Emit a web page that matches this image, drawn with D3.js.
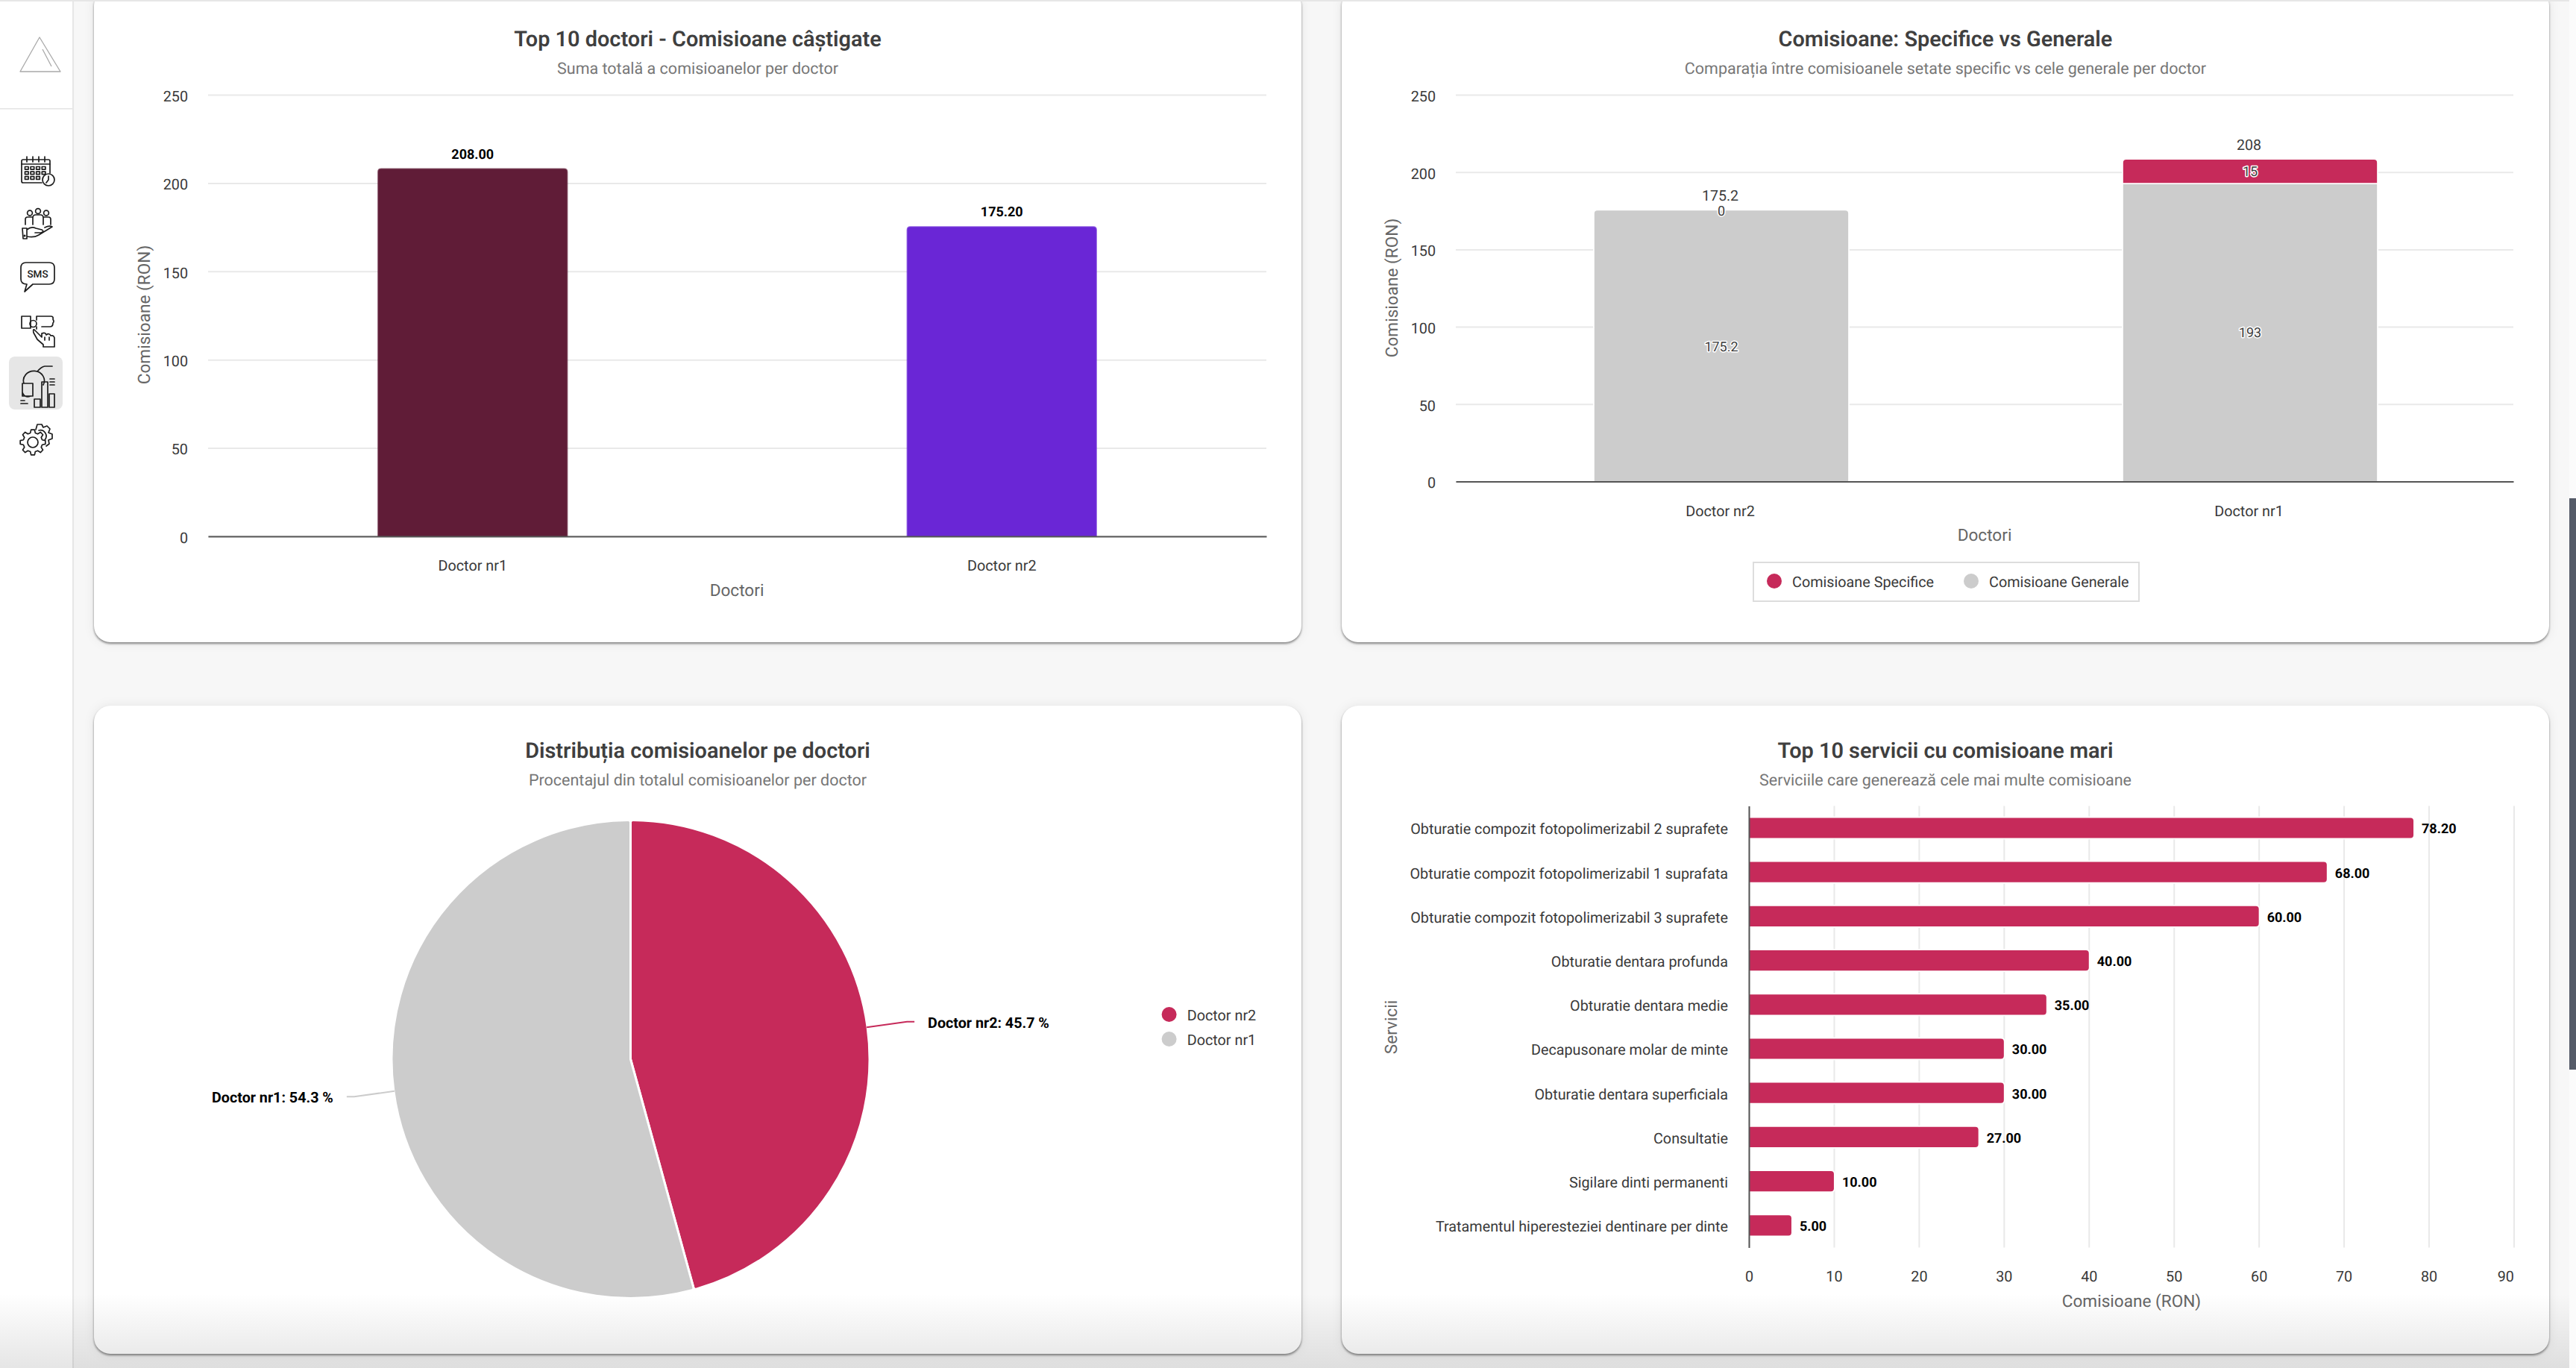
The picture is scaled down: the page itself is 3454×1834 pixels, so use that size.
<!DOCTYPE html>
<html lang="ro">
<head>
<meta charset="utf-8">
<title>Comisioane</title>
<script src="https://cdn.jsdelivr.net/npm/d3@7"></script>
<style>
  html, body { margin: 0; padding: 0; background: #f7f7f7; overflow: hidden; }
  svg { display: block; font-family: Roboto, sans-serif; text-rendering: geometricPrecision; }
  .card { fill: #fff; filter: drop-shadow(0 2px 1.5px rgba(0,0,0,.45)) drop-shadow(0 0 7px rgba(0,0,0,.07)); }
  .title { font-size: 28.9px; font-weight: 600; fill: #3f3f3f; text-anchor: middle; }
  .sub { font-size: 21.5px; fill: #777; text-anchor: middle; }
  .axt { font-size: 22.6px; fill: #666; text-anchor: middle; }
  .tick text { font-family: Roboto, sans-serif; font-size: 19.8px; }
  .val { font-size: 18px; font-weight: 700; fill: #000; }
  .pieval { font-size: 19.7px; font-weight: 700; fill: #000; }
  .inner { font-size: 18px; fill: #3c3c3c; stroke: #fff; stroke-width: 3px; paint-order: stroke; text-anchor: middle; stroke-linejoin: round; }
  .total { font-size: 19.6px; fill: #3c3c3c; text-anchor: middle; }
  .leg { font-size: 19.8px; fill: #3a3a3a; }
  .icon * { fill: none; stroke: #1d1d1d; stroke-width: 1.7px; stroke-linejoin: round; stroke-linecap: round; }
</style>
</head>
<body>
<svg id="c" width="3454" height="1834" viewBox="0 0 3454 1834"></svg>
<script>
// ---------- data ----------
const topDoctors = ["Doctor nr1", "Doctor nr2"];
const topDoctorValues = [208.0, 175.2];
const topDoctorColors = ["#601c37", "#6a26d6"];
const topTicks = [0, 50, 100, 150, 200, 250];

const stackDoctors = ["Doctor nr2", "Doctor nr1"];
const specificValues = [0, 15];
const generalValues = [175.2, 193];
const stackTotals = [175.2, 208];
const stackTicks = [0, 50, 100, 150, 200, 250];

const pieDoctors = ["Doctor nr2", "Doctor nr1"];
const pieValues = [175.2, 208.0];
const pieLabels = ["Doctor nr2: 45.7 %", "Doctor nr1: 54.3 %"];

const services = [
  "Obturatie compozit fotopolimerizabil 2 suprafete",
  "Obturatie compozit fotopolimerizabil 1 suprafata",
  "Obturatie compozit fotopolimerizabil 3 suprafete",
  "Obturatie dentara profunda",
  "Obturatie dentara medie",
  "Decapusonare molar de minte",
  "Obturatie dentara superficiala",
  "Consultatie",
  "Sigilare dinti permanenti",
  "Tratamentul hiperesteziei dentinare per dinte"
];
const serviceValues = [78.2, 68, 60, 40, 35, 30, 30, 27, 10, 5];
const serviceTicks = [0, 10, 20, 30, 40, 50, 60, 70, 80, 90];

const RED = "#c62a5a", GREY = "#cccccc", GRID = "#e9e9e9", AXIS = "#555", TICK = "#3a3a3a";

// ---------- page frame ----------
const svg = d3.select("#c");
svg.append("rect").attr("width", 3454).attr("height", 1834).attr("fill", "#f7f7f7");

const cards = [
  { x: 126, y: -14, w: 1619, h: 875 },
  { x: 1799, y: -14, w: 1619, h: 875 },
  { x: 126, y: 946, w: 1619, h: 869 },
  { x: 1799, y: 946, w: 1619, h: 869 }
];
svg.selectAll("rect.card").data(cards).join("rect").attr("class", "card")
  .attr("x", d => d.x).attr("y", d => d.y).attr("width", d => d.w).attr("height", d => d.h)
  .attr("rx", 22);

function heading(cx, y1, y2, t, s) {
  svg.append("text").attr("class", "title").attr("x", cx).attr("y", y1).attr("dy", ".35em").text(t);
  svg.append("text").attr("class", "sub").attr("x", cx).attr("y", y2).attr("dy", ".35em").text(s);
}
function axisTitle(x, y, t, rot) {
  const e = svg.append("text").attr("class", "axt").attr("dy", ".35em").text(t);
  if (rot) e.attr("transform", `translate(${x},${y}) rotate(-90)`);
  else e.attr("x", x).attr("y", y);
}
function topRounded(x, y, w, h, r) {
  if (h <= 0) return "";
  const rr = Math.min(r, h);
  return `M${x},${y + h}V${y + rr}Q${x},${y} ${x + rr},${y}H${x + w - rr}Q${x + w},${y} ${x + w},${y + rr}V${y + h}Z`;
}
function rightRounded(x, y, w, h, r) {
  return `M${x},${y}H${x + w - r}Q${x + w},${y} ${x + w},${y + r}V${y + h - r}Q${x + w},${y + h} ${x + w - r},${y + h}H${x}Z`;
}
function styleAxis(g) {
  g.selectAll(".tick line").attr("stroke", GRID).attr("stroke-width", 2);
  g.selectAll(".tick text").attr("fill", TICK);
}
function verticalFrame(left, right, top, bottom, ticks, cats, inner) {
  const y = d3.scaleLinear().domain([0, 250]).range([bottom, top]);
  const x = d3.scaleBand().domain(cats).range([left, right]).paddingInner(inner).paddingOuter(inner / 2);
  const gy = svg.append("g").attr("transform", `translate(${left},0)`)
    .call(d3.axisLeft(y).tickValues(ticks).tickSize(-(right - left)).tickPadding(27));
  gy.select(".domain").remove();
  styleAxis(gy);
  gy.selectAll(".tick text").attr("dy", ".42em");
  return { x, y, drawBase() {
    const gx = svg.append("g").attr("transform", `translate(0,${bottom})`)
      .call(d3.axisBottom(x).tickSize(0).tickSizeOuter(0).tickPadding(32));
    gx.select(".domain").attr("stroke", AXIS).attr("stroke-width", 2);
    gx.selectAll(".tick text").attr("fill", TICK);
  } };
}

// ---------- chart 1 ----------
heading(935.5, 52, 91, "Top 10 doctori - Comisioane câștigate", "Suma totală a comisioanelor per doctor");
{
  const f = verticalFrame(279, 1698, 127, 719, topTicks, topDoctors, 0.643);
  svg.append("g").selectAll("path").data(topDoctors).join("path")
    .attr("fill", (d, i) => topDoctorColors[i])
    .attr("stroke", (d, i) => topDoctorColors[i]).attr("stroke-opacity", 0.7).attr("stroke-width", 2)
    .attr("d", (d, i) => topRounded(f.x(d), f.y(topDoctorValues[i]), f.x.bandwidth(), f.y(0) - f.y(topDoctorValues[i]), 4));
  f.drawBase();
  svg.append("g").selectAll("text").data(topDoctors).join("text").attr("class", "val")
    .attr("text-anchor", "middle")
    .attr("x", d => f.x(d) + f.x.bandwidth() / 2)
    .attr("y", (d, i) => f.y(topDoctorValues[i]) - 20).attr("dy", ".35em")
    .text((d, i) => topDoctorValues[i].toFixed(2));
  axisTitle(193, 422, "Comisioane (RON)", true);
  axisTitle(988, 791, "Doctori");
}

// ---------- chart 2 ----------
heading(2608.5, 52, 91, "Comisioane: Specifice vs Generale", "Comparația între comisioanele setate specific vs cele generale per doctor");
{
  const f = verticalFrame(1952, 3370, 127, 645.5, stackTicks, stackDoctors, 0.52);
  const rows = stackDoctors.map((d, i) => ({ doctor: d, general: generalValues[i], specific: specificValues[i] }));
  const layers = d3.stack().keys(["general", "specific"])(rows);
  const color = { general: GREY, specific: RED };
  const bw = f.x.bandwidth();
  const nudge = 1.5;
  const gb = svg.append("g");
  layers.forEach(layer => {
    gb.append("g").selectAll("path").data(layer).join("path")
      .attr("fill", color[layer.key]).attr("stroke", "#fff").attr("stroke-width", 3.5).style("paint-order", "stroke")
      .attr("d", d => {
        const y0 = f.y(d[0]), y1 = f.y(d[1]);
        const isTop = layer.key === "specific" || d.data.specific === 0;
        return topRounded(f.x(d.data.doctor) + nudge, y1, bw, y0 - y1, isTop ? 4 : 0);
      });
  });
  f.drawBase();
  layers.forEach(layer => {
    svg.append("g").selectAll("text").data(layer).join("text").attr("class", "inner")
      .attr("x", d => f.x(d.data.doctor) + bw / 2 + nudge)
      .attr("y", d => (f.y(d[0]) + f.y(d[1])) / 2 + 0.5).attr("dy", ".35em")
      .text(d => d.data[layer.key]);
  });
  svg.append("g").selectAll("text").data(stackDoctors).join("text").attr("class", "total")
    .attr("x", d => f.x(d) + bw / 2)
    .attr("y", (d, i) => f.y(stackTotals[i]) - 20).attr("dy", ".35em")
    .text((d, i) => stackTotals[i]);
  axisTitle(1866, 386, "Comisioane (RON)", true);
  axisTitle(2661, 717, "Doctori");
  // legend
  svg.append("rect").attr("x", 2351).attr("y", 754).attr("width", 517).attr("height", 52)
    .attr("fill", "#fff").attr("stroke", "#ddd").attr("stroke-width", 2);
  const legendItems = [["Comisioane Specifice", RED, 2379, 2403], ["Comisioane Generale", GREY, 2643, 2667]];
  legendItems.forEach(([t, c, cx, tx]) => {
    svg.append("circle").attr("cx", cx).attr("cy", 779).attr("r", 10).attr("fill", c);
    svg.append("text").attr("class", "leg").attr("x", tx).attr("y", 780).attr("dy", ".35em").text(t);
  });
}

// ---------- chart 3 ----------
heading(935.5, 1006, 1045, "Distribuția comisioanelor pe doctori", "Procentajul din totalul comisioanelor per doctor");
{
  const cx = 845.5, cy = 1420, R = 320.5;
  const g = svg.append("g").attr("transform", `translate(${cx},${cy})`);
  const pie = d3.pie().sort(null).value((d, i) => pieValues[i]);
  const arcs = pie(pieDoctors);
  const arc = d3.arc().innerRadius(0).outerRadius(R).cornerRadius(3);
  const col = [RED, GREY];
  g.selectAll("path").data(arcs).join("path")
    .attr("d", arc).attr("fill", (d, i) => col[i])
    .attr("stroke", "#fff").attr("stroke-width", 3).attr("stroke-linejoin", "round");
  const at = (a, r) => [Math.sin(a) * r, -Math.cos(a) * r];
  arcs.forEach((d, i) => {
    const mid = (d.startAngle + d.endAngle) / 2;
    const side = Math.sin(mid) >= 0 ? 1 : -1;
    const p0 = at(mid, R - 1), p1 = at(mid, 374), p2 = [p1[0] + side * 10, p1[1]];
    g.append("path").attr("d", d3.line()([p0, p1, p2])).attr("fill", "none").attr("stroke", col[i]).attr("stroke-width", 2);
    g.append("text").attr("class", "pieval").attr("text-anchor", side > 0 ? "start" : "end")
      .attr("x", p2[0] + side * 18).attr("y", p2[1] + 1).attr("dy", ".35em").text(pieLabels[i]);
  });
  pieDoctors.forEach((d, i) => {
    const ly = 1360 + i * 33;
    svg.append("circle").attr("cx", 1567.6).attr("cy", ly).attr("r", 10).attr("fill", col[i]);
    svg.append("text").attr("class", "leg").attr("x", 1591.7).attr("y", ly + 1).attr("dy", ".35em").text(d);
  });
}

// ---------- chart 4 ----------
heading(2608.5, 1006, 1045, "Top 10 servicii cu comisioane mari", "Serviciile care generează cele mai multe comisioane");
{
  const left = 2345, right = 3370.5, top = 1080.4, bottom = 1672.4;
  const x = d3.scaleLinear().domain([0, 90]).range([left, right]);
  const y = d3.scaleBand().domain(services).range([top, bottom]).paddingInner(0.54).paddingOuter(0.27);
  const gx = svg.append("g").attr("transform", `translate(0,${bottom})`)
    .call(d3.axisBottom(x).tickValues(serviceTicks).tickSize(-(bottom - top)).tickPadding(32));
  gx.select(".domain").remove();
  styleAxis(gx);
  gx.selectAll(".tick").filter(d => d === 90).select("text").attr("text-anchor", "end");
  svg.append("g").selectAll("path").data(services).join("path")
    .attr("fill", RED).attr("stroke", "#fff").attr("stroke-width", 3.5).style("paint-order", "stroke")
    .attr("d", (d, i) => rightRounded(x(0) + 1, y(d), x(serviceValues[i]) - x(0) - 1, y.bandwidth(), 4));
  const gy = svg.append("g").attr("transform", `translate(${left},0)`)
    .call(d3.axisLeft(y).tickSize(0).tickSizeOuter(0).tickPadding(28));
  gy.select(".domain").attr("stroke", AXIS).attr("stroke-width", 2);
  gy.selectAll(".tick text").attr("fill", TICK).attr("dy", ".42em");
  svg.append("g").selectAll("text").data(services).join("text").attr("class", "val")
    .attr("x", (d, i) => x(serviceValues[i]) + 11)
    .attr("y", d => y(d) + y.bandwidth() / 2 + 1).attr("dy", ".35em")
    .text((d, i) => serviceValues[i].toFixed(2));
  axisTitle(1865, 1377, "Servicii", true);
  axisTitle(2858, 1744.5, "Comisioane (RON)");
}

// ---------- sidebar ----------
svg.append("rect").attr("x", 0).attr("y", 0).attr("width", 97).attr("height", 1834).attr("fill", "#fff");
svg.append("rect").attr("x", 97).attr("y", 0).attr("width", 2).attr("height", 1834).attr("fill", "#e6e6e6");
svg.append("rect").attr("x", 0).attr("y", 145).attr("width", 97).attr("height", 1.5).attr("fill", "#e4e4e4");
svg.append("rect").attr("x", 12).attr("y", 478).attr("width", 72).attr("height", 71).attr("rx", 8).attr("fill", "#e6e6e6");

const logo = svg.append("g").attr("fill", "none").attr("stroke", "#a9a9a9").attr("stroke-width", 1.3);
logo.append("path").attr("d", "M53,50L27,96H81Z").attr("stroke-linejoin", "round");
logo.append("path").attr("d", "M57,66L69,89");

const icons = svg.append("g").attr("class", "icon");
// calendar
icons.append("path").attr("d", "M56,245H31Q29,245 29,243V216Q29,214 31,214H65Q67,214 67,216V232");
icons.append("path").attr("d", "M29,220H67M36,210V217M44,210V217M52,210V217M60,210V217");
d3.range(3).forEach(r => d3.range(4).forEach(c => {
  if (!(r === 2 && c === 3)) icons.append("rect").attr("x", 33.5 + c * 7.6).attr("y", 223.5 + r * 6.6).attr("width", 4.6).attr("height", 3.6);
}));
icons.append("circle").attr("cx", 65).attr("cy", 241).attr("r", 8);
icons.append("path").attr("d", "M65,236V241L62,245");
// people + hand
[[40, 285.5], [51, 283], [62, 285.5]].forEach(([a, b]) => icons.append("circle").attr("cx", a).attr("cy", b).attr("r", 3.4));
icons.append("path").attr("d", "M34,301V294Q34,291 37,291H44M68,301V294Q68,291 65,291H58M44,301V292Q44,288 48,288H54Q58,288 58,292V301");
icons.append("path").attr("d", "M30,306H36V320H31ZM36,308Q42,303 48,306L56,308Q60,310 55,312H47M36,317Q46,319 52,315L70,304Q66,302 60,305");
icons.append("circle").attr("cx", 33).attr("cy", 316).attr("r", .7);
// SMS
icons.append("path").attr("d", "M35,352H66Q73,352 73,359V374Q73,381 66,381H44L33,391L36,381Q28,381 28,374V359Q28,352 35,352Z");
svg.append("text").attr("x", 50.5).attr("y", 367).attr("dy", ".35em").attr("text-anchor", "middle")
  .attr("font-size", 13.5).attr("font-weight", 500).attr("fill", "#1d1d1d").text("SMS");
// watch hand
icons.append("path").attr("d", "M29,424H41V440H29ZM49,424H68Q72,424 71,428Q73,431 71,433Q71,438 67,438H56M49,424V429M49,441V438");
icons.append("circle").attr("cx", 44.5).attr("cy", 434).attr("r", 4.5);
icons.append("path").attr("d", "M46,442L56,452V447Q61,445 62,449Q66,446 68,450Q72,449 73,453V465H58V462L50,455L45,446Q44,441 46,442ZM60,452V456M66,452V456");
// analytics
icons.append("path").attr("d", "M32,514A14,13 0 1 1 58,516M30,514H44V531H30ZM30,526Q33,534 41,531M50,498Q55,492 60,491H70");
icons.append("path").attr("d", "M46,535H54V546H46ZM56,512H64V546H56ZM66,528H73V546H66ZM67,508H73M67,512H73M67,516H73M28,541H37M28,537H33");
// gear
function gearPath(cx, cy, ro, ri, n) {
  const pts = [];
  d3.range(n).forEach(k => {
    const a = k * 2 * Math.PI / n, w = Math.PI / n * 0.5;
    [[ri, a - w * 1.3], [ro, a - w * 0.7], [ro, a + w * 0.7], [ri, a + w * 1.3]].forEach(([r, t]) => pts.push([cx + r * Math.cos(t), cy + r * Math.sin(t)]));
  });
  return d3.line().curve(d3.curveLinearClosed)(pts);
}
icons.append("path").attr("d", gearPath(44, 593, 17, 13, 8));
icons.append("circle").attr("cx", 44).attr("cy", 593).attr("r", 7);
icons.append("path").attr("d", "M48,576L50,569H56L58,573L63,571L67,575L65,580L70,582V588L65,590L66,595L62,598");
icons.append("path").attr("d", "M52,577A8,8 0 0 1 60,590");

// ---------- page chrome ----------
svg.append("rect").attr("x", 0).attr("y", 0).attr("width", 3454).attr("height", 2).attr("fill", "#e6e6e6");
svg.append("rect").attr("x", 3445).attr("y", 0).attr("width", 9).attr("height", 1834).attr("fill", "#fbfbfb");
svg.append("rect").attr("x", 3445).attr("y", 668).attr("width", 9).attr("height", 766).attr("fill", "#555b68");
const defs = svg.append("defs");
const lg = defs.append("linearGradient").attr("id", "fade").attr("x1", 0).attr("y1", 0).attr("x2", 0).attr("y2", 1);
lg.append("stop").attr("offset", 0).attr("stop-color", "#000").attr("stop-opacity", 0);
lg.append("stop").attr("offset", 1).attr("stop-color", "#000").attr("stop-opacity", 0.1);
svg.append("rect").attr("x", 0).attr("y", 1734).attr("width", 3445).attr("height", 100).attr("fill", "url(#fade)");
</script>
</body>
</html>
